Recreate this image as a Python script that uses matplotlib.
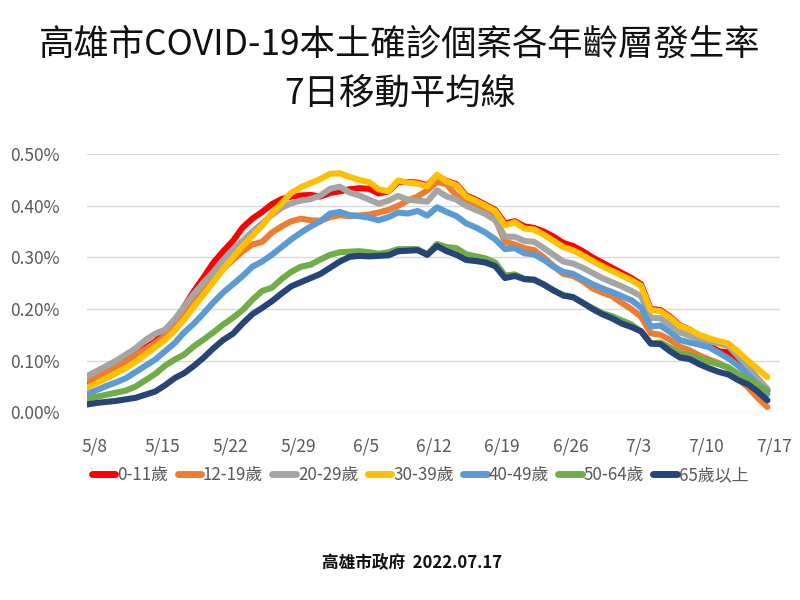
import matplotlib
matplotlib.use("Agg")
import matplotlib.pyplot as plt
import matplotlib.transforms as mtransforms
import numpy as np

plt.rcParams['font.family'] = ['Noto Sans CJK TC', 'DejaVu Sans']

# daily 7-day moving average incidence (%), 5/8 .. 7/17
dates = ["5/8", "5/15", "5/22", "5/29", "6/5", "6/12", "6/19", "6/26", "7/3", "7/10", "7/17"]
age_groups = ["0-11歲", "12-19歲", "20-29歲", "30-39歲", "40-49歲", "50-64歲", "65歲以上"]

r_0_11 = [0.056, 0.065, 0.075, 0.086, 0.100, 0.112, 0.125, 0.137, 0.155, 0.175,
          0.205, 0.235, 0.262, 0.290, 0.312, 0.332, 0.358, 0.375, 0.388, 0.403,
          0.413, 0.418, 0.420, 0.421, 0.418, 0.425, 0.428, 0.432, 0.434, 0.433,
          0.424, 0.428, 0.446, 0.446, 0.445, 0.440, 0.458, 0.448, 0.442, 0.420,
          0.412, 0.402, 0.392, 0.366, 0.370, 0.360, 0.357, 0.350, 0.340, 0.328,
          0.322, 0.312, 0.300, 0.290, 0.280, 0.270, 0.260, 0.248, 0.200, 0.198,
          0.185, 0.168, 0.160, 0.148, 0.130, 0.118, 0.116, 0.100, 0.082, 0.062,
          0.042]
r_12_19 = [0.062, 0.070, 0.078, 0.088, 0.098, 0.110, 0.122, 0.134, 0.148, 0.166,
           0.190, 0.215, 0.240, 0.262, 0.278, 0.295, 0.312, 0.325, 0.330, 0.348,
           0.360, 0.370, 0.375, 0.372, 0.371, 0.378, 0.382, 0.380, 0.381, 0.383,
           0.387, 0.392, 0.400, 0.410, 0.418, 0.430, 0.446, 0.442, 0.420, 0.408,
           0.398, 0.388, 0.375, 0.330, 0.325, 0.318, 0.314, 0.300, 0.283, 0.268,
           0.264, 0.254, 0.240, 0.232, 0.225, 0.212, 0.200, 0.185, 0.153, 0.150,
           0.140, 0.127, 0.120, 0.110, 0.102, 0.095, 0.085, 0.065, 0.048, 0.028,
           0.010]
r_20_29 = [0.070, 0.080, 0.090, 0.100, 0.112, 0.124, 0.140, 0.152, 0.160, 0.180,
           0.205, 0.230, 0.252, 0.272, 0.295, 0.315, 0.332, 0.350, 0.366, 0.382,
           0.396, 0.405, 0.410, 0.413, 0.420, 0.433, 0.437, 0.426, 0.420, 0.412,
           0.404, 0.410, 0.419, 0.412, 0.410, 0.408, 0.430, 0.418, 0.412, 0.400,
           0.392, 0.384, 0.372, 0.340, 0.340, 0.332, 0.330, 0.318, 0.305, 0.292,
           0.288, 0.280, 0.270, 0.260, 0.252, 0.244, 0.235, 0.225, 0.183, 0.182,
           0.170, 0.155, 0.148, 0.142, 0.137, 0.134, 0.128, 0.108, 0.088, 0.066,
           0.045]
r_30_39 = [0.048, 0.057, 0.066, 0.076, 0.086, 0.098, 0.112, 0.126, 0.140, 0.158,
           0.180, 0.205, 0.228, 0.253, 0.277, 0.300, 0.322, 0.342, 0.361, 0.385,
           0.405, 0.425, 0.436, 0.444, 0.452, 0.462, 0.463, 0.456, 0.450, 0.446,
           0.432, 0.428, 0.449, 0.445, 0.443, 0.438, 0.460, 0.447, 0.440, 0.418,
           0.410, 0.400, 0.390, 0.362, 0.368, 0.356, 0.354, 0.344, 0.332, 0.320,
           0.314, 0.304, 0.293, 0.283, 0.274, 0.265, 0.256, 0.245, 0.198, 0.196,
           0.183, 0.167, 0.160, 0.150, 0.143, 0.138, 0.133, 0.117, 0.100, 0.084,
           0.068]
r_40_49 = [0.035, 0.043, 0.051, 0.058, 0.066, 0.078, 0.090, 0.102, 0.118, 0.134,
           0.155, 0.172, 0.192, 0.213, 0.232, 0.248, 0.264, 0.282, 0.292, 0.305,
           0.320, 0.335, 0.348, 0.360, 0.370, 0.385, 0.388, 0.382, 0.380, 0.377,
           0.372, 0.378, 0.387, 0.385, 0.390, 0.381, 0.397, 0.388, 0.380, 0.366,
           0.358, 0.348, 0.335, 0.316, 0.318, 0.308, 0.306, 0.295, 0.282, 0.272,
           0.268, 0.258, 0.248, 0.240, 0.233, 0.225, 0.217, 0.203, 0.166, 0.168,
           0.155, 0.140, 0.135, 0.131, 0.126, 0.115, 0.104, 0.090, 0.073, 0.054,
           0.035]
r_50_64 = [0.026, 0.030, 0.034, 0.038, 0.042, 0.050, 0.062, 0.074, 0.090, 0.102,
           0.112, 0.128, 0.141, 0.155, 0.170, 0.183, 0.198, 0.218, 0.235, 0.241,
           0.258, 0.272, 0.282, 0.286, 0.296, 0.305, 0.310, 0.311, 0.312, 0.310,
           0.307, 0.310, 0.316, 0.316, 0.316, 0.306, 0.326, 0.320, 0.318, 0.306,
           0.302, 0.298, 0.290, 0.265, 0.267, 0.258, 0.256, 0.248, 0.236, 0.227,
           0.223, 0.212, 0.202, 0.192, 0.186, 0.178, 0.170, 0.156, 0.133, 0.135,
           0.125, 0.114, 0.110, 0.104, 0.098, 0.093, 0.087, 0.074, 0.064, 0.053,
           0.042]
r_65_up = [0.015, 0.018, 0.020, 0.022, 0.025, 0.028, 0.034, 0.040, 0.052, 0.066,
           0.076, 0.090, 0.106, 0.124, 0.140, 0.152, 0.172, 0.190, 0.202, 0.215,
           0.230, 0.244, 0.252, 0.260, 0.268, 0.280, 0.292, 0.301, 0.303, 0.302,
           0.303, 0.304, 0.312, 0.313, 0.314, 0.305, 0.322, 0.312, 0.305, 0.295,
           0.293, 0.290, 0.283, 0.260, 0.264, 0.258, 0.257, 0.247, 0.236, 0.226,
           0.223, 0.212, 0.200, 0.190, 0.182, 0.172, 0.165, 0.157, 0.133, 0.132,
           0.118, 0.106, 0.103, 0.093, 0.085, 0.078, 0.073, 0.062, 0.054, 0.040,
           0.023]

series = [r_0_11, r_12_19, r_20_29, r_30_39, r_40_49, r_50_64, r_65_up]
colors = ["#FF0000", "#ED7D31", "#A5A5A5", "#FFC000", "#5B9BD5", "#70AD47", "#264478"]

fig = plt.figure(figsize=(8, 6), dpi=100)
ax = fig.add_axes([0.109, 0.313, 0.866, 0.43])

days = np.arange(len(r_0_11))
for vals, c, lab in zip(series, colors, age_groups):
    ax.plot(days, vals, color=c, lw=4.4, label=lab, solid_capstyle="round",
            solid_joinstyle="round")

ax.set_ylim(0, 0.5)
ax.set_xlim(0, 71.3)
ax.set_yticks(np.arange(0, 0.51, 0.1))
ax.set_yticklabels([f"{v:.2f}%" for v in np.arange(0, 0.51, 0.1)])
ax.set_xticks(np.arange(0, len(days), 7))
ax.set_xticklabels(dates)
ax.grid(axis="y", color="#D9D9D9", lw=1)
ax.set_axisbelow(True)
for s in ax.spines.values():
    s.set_visible(False)
ax.tick_params(axis="both", length=0, labelsize=12.5, labelcolor="#595959")
ax.tick_params(axis="y", pad=20)
ax.tick_params(axis="x", pad=18)
off = mtransforms.ScaledTranslation(7 / 100, 0, fig.dpi_scale_trans)
for t in ax.get_xticklabels():
    t.set_transform(t.get_transform() + off)

fig.text(0.5, 0.925, "高雄市COVID-19本土確診個案各年齡層發生率", ha="center", va="center",
         fontsize=25.5, color="#111111")
fig.text(0.5, 0.843, "7日移動平均線", ha="center", va="center", fontsize=25.5, color="#111111")

leg = fig.legend(loc="center", bbox_to_anchor=(0.525, 0.208), ncol=7, frameon=False,
                 handlelength=1.4, handletextpad=0.1, columnspacing=0.55, fontsize=12.2)
for t in leg.get_texts():
    t.set_color("#595959")
for h in leg.legend_handles:
    h.set_linewidth(5)

fig.text(0.515, 0.062, "高雄市政府  2022.07.17", ha="center", va="center",
         fontsize=12, fontweight="bold", color="#111111")

fig.savefig("out.png", dpi=100)
